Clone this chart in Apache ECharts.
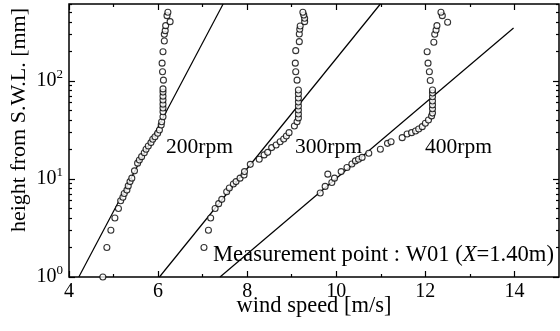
<!DOCTYPE html>
<html><head><meta charset="utf-8">
<script src="https://cdn.jsdelivr.net/npm/echarts@6/dist/echarts.min.js"></script>
<style>html,body{margin:0;padding:0;background:#fff}#c{width:560px;height:331px}</style>
</head><body><div id="c"></div>
<script>
// ---- measured profiles (wind speed m/s, height mm) ----
const u200 = [4.76,4.85,4.94,5.03,5.11,5.16,5.21,5.24,5.30,5.33,5.37,5.41,5.47,5.54,5.58,5.63,5.69,5.73,5.78,5.84,5.88,5.93,5.99,6.03,6.07,6.08,6.11,6.11,6.11,6.11,6.11,6.11,6.11,6.11,6.12,6.10,6.09,6.11,6.14,6.14,6.16,6.17,6.27,6.20,6.22];
const z200 = [1.0,2.0,3.0,4.0,5.0,6.0,6.5,7.1,7.7,8.5,9.4,10.2,12.1,14.5,15.6,16.9,18.5,20.1,21.7,23.5,25.4,27,29.3,31.6,35.6,38.4,43.2,48.6,53,58,64,70,77,83,102,124,152,199,256,300,326,367,403,464,502];
const u300 = [7.03,7.13,7.18,7.28,7.36,7.43,7.54,7.60,7.69,7.75,7.84,7.93,7.94,8.07,8.27,8.38,8.46,8.55,8.65,8.74,8.82,8.88,8.94,9.06,9.12,9.15,9.15,9.15,9.15,9.15,9.15,9.15,9.15,9.12,9.09,9.08,9.09,9.17,9.17,9.18,9.19,9.29,9.29,9.27,9.25];
const z300 = [2.0,3.0,4.0,5.0,5.6,6.2,7.4,8.1,8.9,9.4,10.2,11,11.9,14.1,15.9,17.6,18.7,20.9,22.2,24,25.6,27.5,29.7,34.7,38.4,42,46,50.6,55.6,61,67,74,81,102,124,152,204,252,302,337,364,403,436,471,502];
const u400 = [9.64,9.75,9.81,9.90,9.96,10.11,10.24,10.35,10.43,10.50,10.58,10.73,10.99,11.15,11.23,11.48,11.59,11.69,11.78,11.85,11.93,12.00,12.07,12.14,12.16,12.16,12.16,12.16,12.16,12.16,12.16,12.11,12.09,12.06,12.04,12.19,12.21,12.24,12.26,12.50,12.38,12.35];
const z400 = [7.2,8.4,11.2,9.2,10.2,11.9,13.1,14.2,15.3,15.9,16.6,18.3,20.1,23.1,24,26.4,28.8,29.7,30.9,32.4,34.2,37,40,44,47,52,57,62.5,69,75.5,81,101,124,152,199,248,300,331,367,397,464,502];
// ---- log-law fit lines (endpoints) ----
const fitU200 = [4.22, 7.46], fitZ200 = [1, 610];
const fitU300 = [6.03, 10.99], fitZ300 = [1, 610];
const fitU400 = [7.39, 13.98], fitZ400 = [1, 347];
// ---- axes ----
const xMajorTicks = [4,6,8,10,12,14];
const xMinorTicks = [5,7,9,11,13];
const yMajorTicks = [1,10,100];
const yMinorTicks = [2,3,4,5,6,7,8,9,20,30,40,50,60,70,80,90,200,300,400,500,600];
const xRange = [4, 15], yRange = [1, 610];
const xName = 'wind speed [m/s]';
const yName = 'height from S.W.L. [mm]';
const rpmLabels = ['200rpm','300rpm','400rpm'];
const noteText = '{r|Measurement point : W01 (}{i|X}{r|=1.40m)}';

const zip = (a,b) => a.map((v,i)=>[v,b[i]]);
const FONT = 'Liberation Serif, Times New Roman, serif';
const chart = echarts.init(document.getElementById('c'), null, {renderer:'canvas'});

function xAx(pos, ticks, len, lbl){
  return {type:'value', min:xRange[0], max:xRange[1], position:pos, gridIndex:0,
    axisLine:{show:false}, splitLine:{show:false},
    axisTick:{show:true, inside:true, length:len, customValues:ticks, lineStyle:{color:'#000', width:1.2}},
    axisLabel: lbl ? {show:true, customValues:xMajorTicks, color:'#000', fontFamily:FONT, fontSize:20, margin:5} : {show:false}};
}
function yAx(pos, ticks, len, lbl){
  return {type:'log', logBase:10, min:yRange[0], max:yRange[1], position:pos, gridIndex:0,
    axisLine:{show:false}, splitLine:{show:false}, minorTick:{show:false},
    axisTick:{show:true, inside:true, length:len, customValues:ticks, lineStyle:{color:'#000', width:1.2}},
    axisLabel: lbl ? {show:true, customValues:yMajorTicks, margin:6,
      formatter: v => '{b|10}{s|' + Math.round(Math.log10(v)) + '}',
      rich:{b:{fontFamily:FONT, fontSize:20, color:'#000'},
            s:{fontFamily:FONT, fontSize:13, color:'#000', padding:[0,0,12,0]}}} : {show:false}};
}

const scat = (u,z) => ({type:'scatter', xAxisIndex:0, yAxisIndex:0, data:zip(u,z), symbol:'circle', symbolSize:6,
  itemStyle:{color:'#fff', borderColor:'#000', borderWidth:1.1}, z:5, silent:true});
const fit = (u,z) => ({type:'line', xAxisIndex:0, yAxisIndex:0, data:zip(u,z), showSymbol:false, symbol:'none',
  lineStyle:{color:'#000', width:1.2}, z:3, silent:true, clip:true});

chart.setOption({
  animation:false,
  backgroundColor:'#fff',
  grid:{left:69, right:1, top:4, bottom:54, show:true, borderColor:'#000', borderWidth:1.5, backgroundColor:'transparent'},
  xAxis:[xAx('bottom', xMajorTicks, 6, true), xAx('bottom', xMinorTicks, 3, false),
         xAx('top', xMajorTicks, 6, false), xAx('top', xMinorTicks, 3, false)],
  yAxis:[yAx('left', yMajorTicks, 6, true), yAx('left', yMinorTicks, 3, false),
         yAx('right', yMajorTicks, 6, false), yAx('right', yMinorTicks, 3, false)],
  series:[fit(fitU200,fitZ200), fit(fitU300,fitZ300), fit(fitU400,fitZ400),
          scat(u200,z200), scat(u300,z300), scat(u400,z400)],
  graphic:[
    {type:'text', x:166, y:147, z:10, style:{text:rpmLabels[0], font:'21.5px '+FONT, fill:'#000', verticalAlign:'middle'}},
    {type:'text', x:295, y:147, z:10, style:{text:rpmLabels[1], font:'21.5px '+FONT, fill:'#000', verticalAlign:'middle'}},
    {type:'text', x:425, y:147, z:10, style:{text:rpmLabels[2], font:'21.5px '+FONT, fill:'#000', verticalAlign:'middle'}},
    {type:'text', x:213, y:255, z:10, style:{text:noteText, fill:'#000', verticalAlign:'middle',
      rich:{r:{fontFamily:FONT, fontSize:22.6, color:'#000'}, i:{fontFamily:FONT, fontSize:22.6, fontStyle:'italic', color:'#000'}}}},
    {type:'text', x:314, y:306, z:10, style:{text:xName, font:'22.5px '+FONT, fill:'#000', align:'center', verticalAlign:'middle'}},
    {type:'text', x:19, y:120, rotation:Math.PI/2, z:10, style:{text:yName, font:'22px '+FONT, fill:'#000', align:'center', verticalAlign:'middle'}}
  ]
});
</script></body></html>
